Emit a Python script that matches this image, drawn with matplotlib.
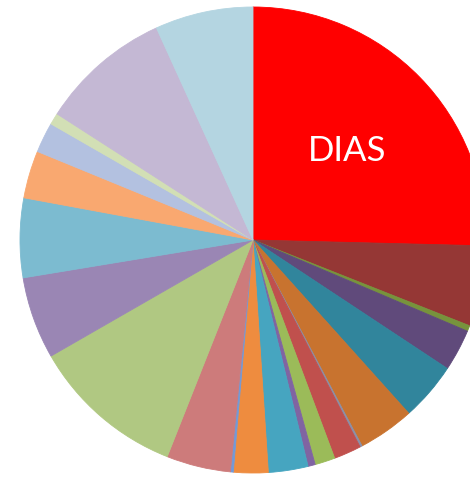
import matplotlib
matplotlib.use("Agg")
import matplotlib.pyplot as plt

# slice shares (%), clockwise from 12 o'clock
labels = ["DIAS"] + [""] * 21
shares = [25.4, 5.6, 0.4, 2.9, 4.05, 3.9, 0.15, 1.9, 1.4, 0.5, 2.75,
          2.4, 0.2, 4.45, 10.7, 5.7, 5.5, 3.3, 2.1, 0.8, 9.1, 6.8]
colors = ["#ff0000", "#953735", "#77933c", "#604a7b", "#31859c", "#c8732f",
          "#8a8fa8", "#c0504d", "#9bbb59", "#8064a2", "#46a5c0", "#ee8c3f",
          "#7399d6", "#cd7b7b", "#b0c882", "#9a86b4", "#7cbbd0", "#f9a870",
          "#b3c1e0", "#d2dfb5", "#c4b8d4", "#b4d5e1"]

fig = plt.figure(figsize=(4.7, 4.78), dpi=100)
ax = fig.add_axes([0, 0, 1, 1])

wedges, texts = ax.pie(shares, labels=labels, colors=colors, startangle=90,
                       counterclock=False, labeldistance=0.565,
                       wedgeprops=dict(linewidth=0.6),
                       textprops=dict(color="white", fontsize=25, family="Lato"))
# outline each wedge in its own colour to hide seams
for w in wedges:
    w.set_edgecolor(w.get_facecolor())
for t in texts:
    t.set_ha("center")
    t.set_va("center_baseline")

# radius 233 px, center at (253, 240) px from top-left
r = 233.0
ax.set_xlim(-253 / r, 217 / r)
ax.set_ylim(-238 / r, 240 / r)
ax.set_aspect("auto")
ax.axis("off")

fig.savefig("out.png", dpi=100)
